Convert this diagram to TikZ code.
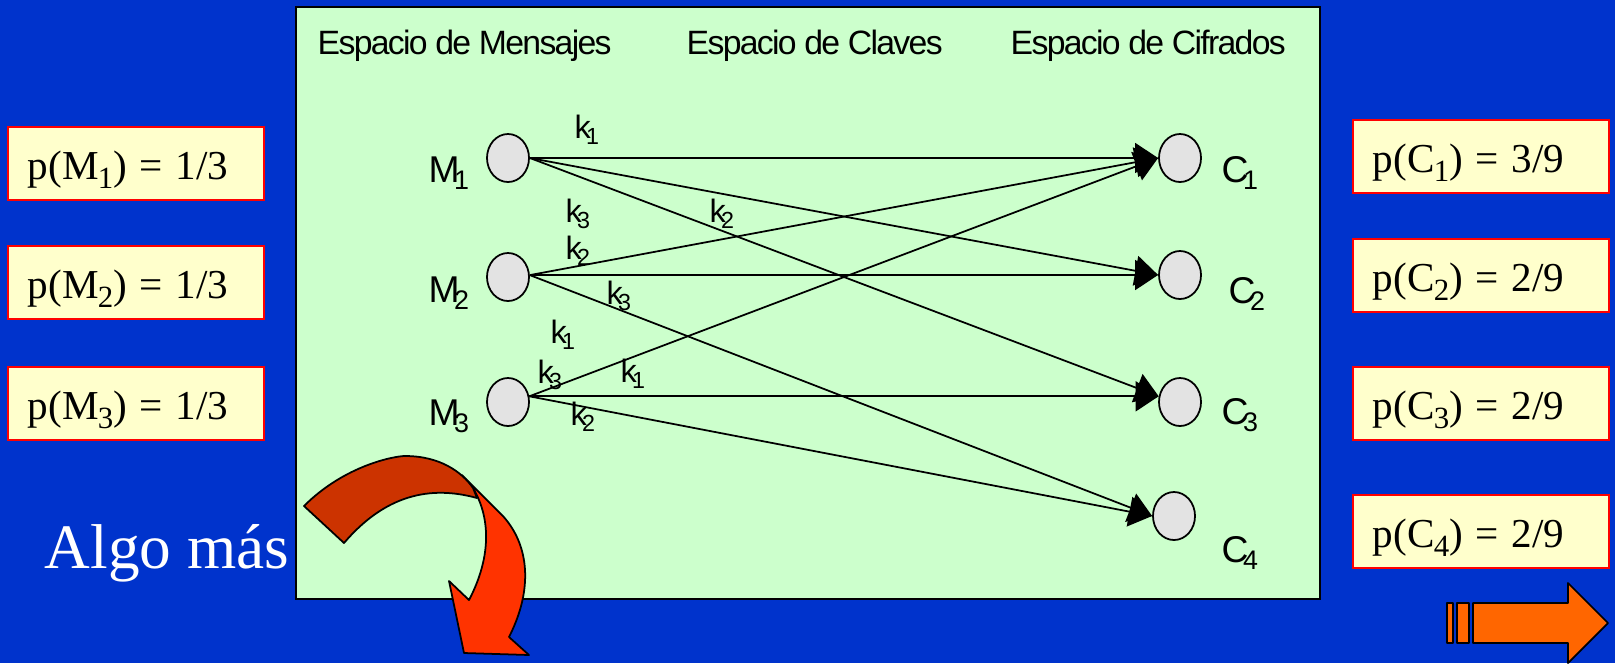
\documentclass[tikz,border=0pt]{standalone}
\usepackage{fontspec}
\setmainfont{Liberation Serif}
\newfontfamily\tightsans[LetterSpace=-5]{Liberation Sans}
\usetikzlibrary{arrows.meta,shapes.geometric}
\definecolor{slideblue}{HTML}{0033CC}
\definecolor{panelgreen}{HTML}{CCFFCC}
\definecolor{boxyellow}{HTML}{FFFFCC}
\definecolor{ballgrey}{HTML}{E3E3E3}
\definecolor{darkred}{HTML}{CC3300}
\definecolor{lightred}{HTML}{FF3300}
\definecolor{nextorange}{HTML}{FF6600}
\newcommand{\idx}[1]{\kern-.02em\raisebox{-.2em}{\scalebox{.75}{#1}}}
\newcommand{\sidx}[1]{\kern-.15em\raisebox{-.2em}{\scalebox{.72}{#1}}}
\tikzset{
  probbox/.style={draw=red,line width=.5pt,fill=boxyellow,anchor=north west,inner sep=0pt,inner xsep=.2cm,
    text width=2.16cm,text height=.53cm,text depth=.2cm,font=\fontsize{11.7pt}{14pt}\selectfont,
    execute at begin node={\spaceskip=.31em\relax}},
  ball/.style={ellipse,draw,line width=.5pt,fill=ballgrey,minimum width=.42cm,minimum height=.48cm,inner sep=0pt},
  keylabel/.style={anchor=base west,inner sep=0pt,font=\tightsans\fontsize{9.2pt}{10pt}\selectfont},
  nodelabel/.style={anchor=base west,inner sep=0pt,font=\tightsans\fontsize{10.6pt}{12pt}\selectfont},
  headlabel/.style={anchor=base west,inner sep=0pt,font=\tightsans\fontsize{9.6pt}{11pt}\selectfont},
  blockshape/.style={draw,line width=.5pt,line join=round}
}
\begin{document}
\begin{tikzpicture}[x=.01cm,y=-.01cm,>={Triangle[length=.23cm,width=.3cm]}]
\fill[slideblue] (0,0) rectangle (1615,663);
\useasboundingbox (0,0) rectangle (1615,663);
\draw[line width=.6pt,fill=panelgreen] (296,7) rectangle (1320,599);
% headers
\node[headlabel] (hm) at (317,54) {Espacio de Mensajes};
\node[headlabel] (hk) at (686,54) {Espacio de Claves};
\node[headlabel] (hc) at (1010,54) {Espacio de Cifrados};
% messages and ciphertexts
\node[ball] (m1) at (508,158) {};
\node[ball] (m2) at (508,277) {};
\node[ball] (m3) at (508,402) {};
\node[ball] (c1) at (1180,158) {};
\node[ball] (c2) at (1180,275) {};
\node[ball] (c3) at (1180,402) {};
\node[ball] (c4) at (1174,516) {};
\node[nodelabel] (lm1) at (428,182) {M\sidx{1}};
\node[nodelabel] (lm2) at (428,302) {M\sidx{2}};
\node[nodelabel] (lm3) at (428,425) {M\sidx{3}};
\node[nodelabel] (lc1) at (1221,182) {C\sidx{1}};
\node[nodelabel] (lc2) at (1228,303) {C\sidx{2}};
\node[nodelabel] (lc3) at (1221,424) {C\sidx{3}};
\node[nodelabel] (lc4) at (1221,562) {C\sidx{4}};
% keys
\foreach \a/\b in {m1.east/c1.west,m1.east/c2.west,m1.east/c3.165,m2.5/c1.west,m2.5/c2.west,m2.5/c4.west,m3.15/c1.west,m3.15/c3.165,m3.15/c4.west}
  \draw[->,line width=.5pt] (\a)--(\b);
\node[keylabel] (ka) at (574,138) {k\sidx{1}};
\node[keylabel] (kb) at (565,222) {k\sidx{3}};
\node[keylabel] (kc) at (709,222) {k\sidx{2}};
\node[keylabel] (kd) at (565,259) {k\sidx{2}};
\node[keylabel] (ke) at (606,304) {k\sidx{3}};
\node[keylabel] (kf) at (550,343) {k\sidx{1}};
\node[keylabel] (kg) at (537,383) {k\sidx{3}};
\node[keylabel] (kh) at (620,382) {k\sidx{1}};
\node[keylabel] (ki) at (570,425) {k\sidx{2}};
% probabilities
\node[probbox] (pm1) at (7,126) {p(M\idx{1}) = 1/3};
\node[probbox] (pm2) at (7,245) {p(M\idx{2}) = 1/3};
\node[probbox] (pm3) at (7,366) {p(M\idx{3}) = 1/3};
\node[probbox] (pc1) at (1352,119) {p(C\idx{1}) = 3/9};
\node[probbox] (pc2) at (1352,238) {p(C\idx{2}) = 2/9};
\node[probbox] (pc3) at (1352,366) {p(C\idx{3}) = 2/9};
\node[probbox] (pc4) at (1352,494) {p(C\idx{4}) = 2/9};
\node[anchor=base west,inner sep=0pt,text=white,font=\fontsize{18pt}{21pt}\selectfont] (more) at (44,568) {Algo más};
% curved arrow
\draw[blockshape,fill=lightred] (462,475)--(502,515) .. controls (530,545) and (533,590) .. (509,637)
  --(529,655)--(464,653)--(449,581)--(469,600) .. controls (490,560) and (492,520) .. (473,488)--cycle;
\draw[blockshape,fill=darkred] (304,506) .. controls (345,465) and (395,456) .. (405,456)
  .. controls (440,456) and (462,472) .. (473,488) -- (477,498)
  .. controls (430,485) and (385,495) .. (344,543)--cycle;
% next button
\draw[blockshape,fill=nextorange] (1447,603) rectangle (1453,643);
\draw[blockshape,fill=nextorange] (1457,603) rectangle (1469,643);
\draw[blockshape,fill=nextorange] (1473,603)--(1568,603)--(1568,583)--(1608,623)--(1568,663)--(1568,643)--(1473,643)--cycle;
\end{tikzpicture}
\end{document}
